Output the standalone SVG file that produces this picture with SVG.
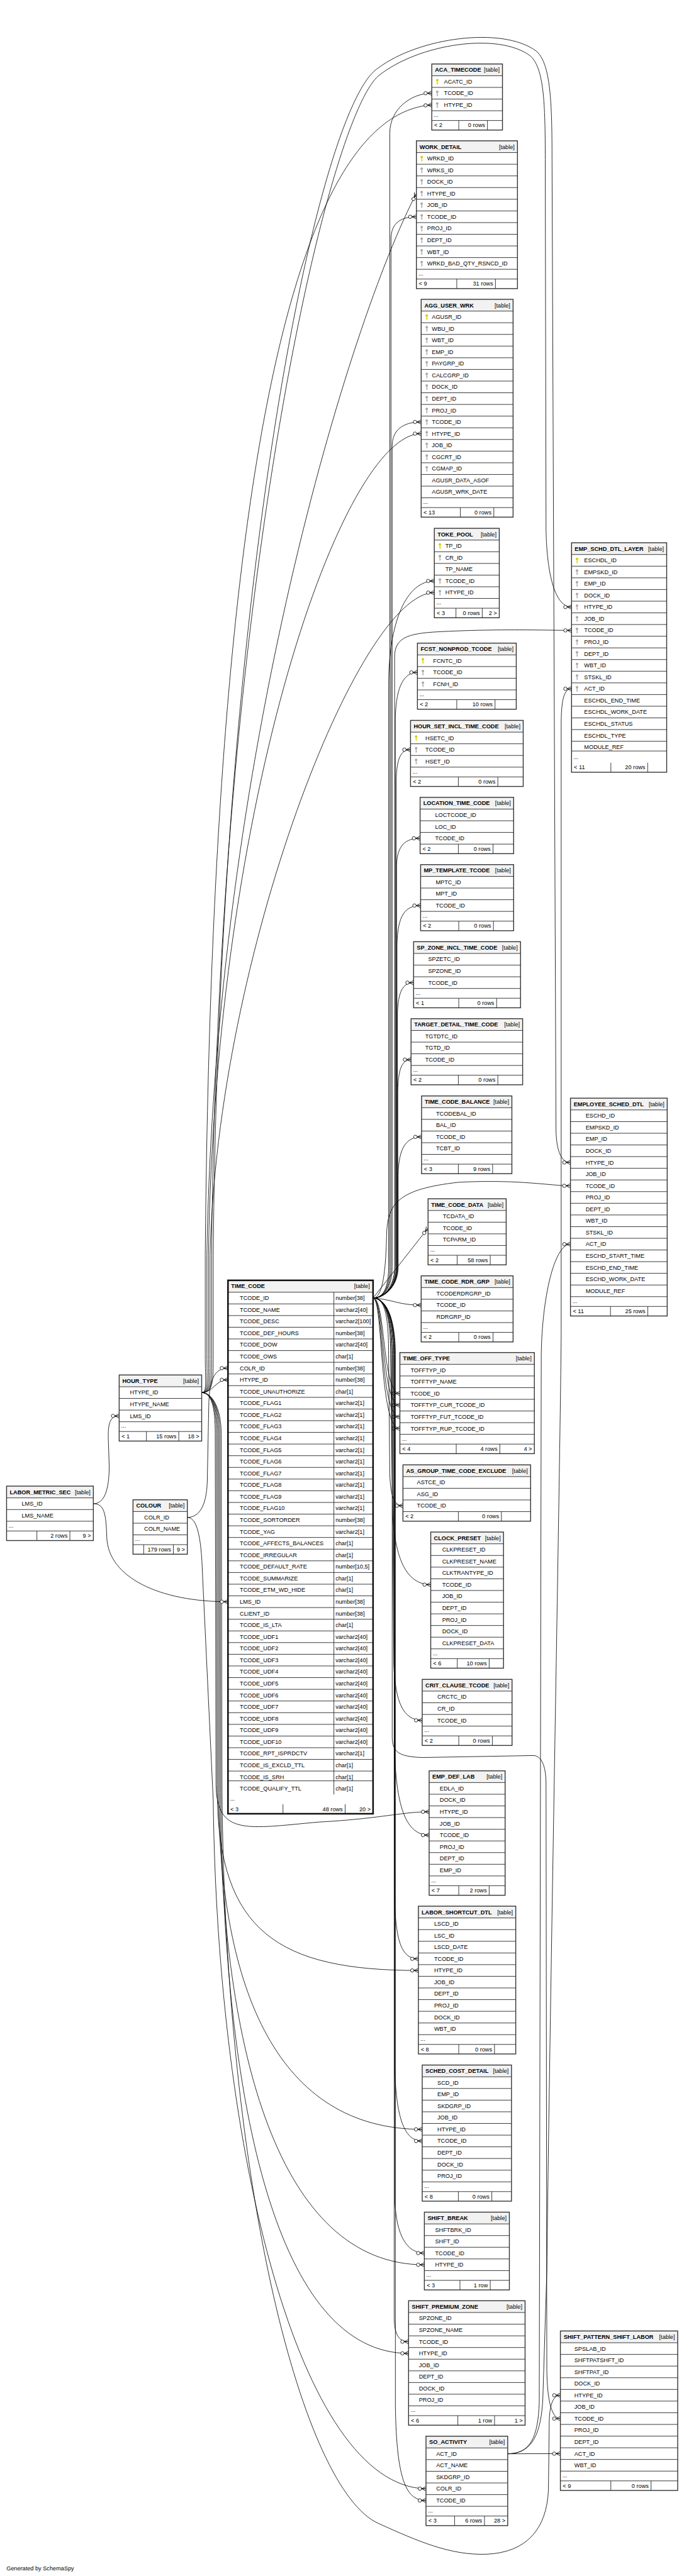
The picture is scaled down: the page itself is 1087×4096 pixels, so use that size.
<svg xmlns="http://www.w3.org/2000/svg" width="1087" height="4096" viewBox="0 0 1087 4096">
<style>
text{font-family:"Liberation Sans",Arial,Helvetica,sans-serif;font-size:14.5px;fill:#000}
.b{font-weight:bold}
.e{text-anchor:end}
.bg{fill:#fff}
.hd{fill:#f2f2f2}
.ln{fill:none;stroke:#222;stroke-width:1.4}
.bd{fill:none;stroke:#333;stroke-width:2.2}
.bd4{fill:none;stroke:#111;stroke-width:4}
.c{fill:none;stroke:#000;stroke-width:1.3;marker-end:url(#cf)}
</style>
<defs>
<marker id="cf" viewBox="-22 -7 23 14" refX="0" refY="0" markerWidth="23" markerHeight="14" markerUnits="userSpaceOnUse" orient="auto">
<path d="M-11 0L0 -5.5M-11 0H0M-11 0L0 5.5" fill="none" stroke="#000" stroke-width="1.3"/>
<circle cx="-15.5" cy="0" r="4.3" fill="#fff" stroke="#000" stroke-width="1.3"/>
</marker>
<g id="kp" fill="#d2d200"><circle cx="0" cy="-3.5" r="3.2"/><rect x="-1" y="-1" width="2" height="8.5"/><rect x="0" y="3.5" width="2.6" height="1.6"/></g>
<g id="kf" fill="#aaaaaa"><circle cx="0" cy="-3.5" r="3.2"/><rect x="-1" y="-1" width="2" height="8.5"/><rect x="0" y="3.5" width="2.6" height="1.6"/></g>
</defs>
<rect width="1087" height="4096" fill="#fff"/>
<g transform="scale(0.6334)">
<g id="connectors">
<path class="c" d="M936 3258.6C962 3258.6 978 3232 978 3180L978 334C978 275 1030 234 1083.3 234"/>
<path class="c" d="M936 3258.6C962 3258.6 981 3232 981 3180L981 600C981 565 1000 544.2 1044.7 544.2"/>
<path class="c" d="M936 3258.6C962 3258.6 984 3232 984 3180L984 1120C984 1080 1010 1059.3 1056.7 1059.3"/>
<path class="c" d="M936 3258.6C962 3258.6 975 3232 975 3180L975 1720C975 1560 1020 1458.4 1089.7 1458.4"/>
<path class="c" d="M936 3258.6C962 3258.6 990 3232 990 3180L990 1650C990 1602 1020 1590 1100 1586C1250 1578 1380 1582.5 1434 1582.5"/>
<path class="c" d="M936 3258.6C962 3258.6 992 3232 992 3180L992 1800C994 1720 1015 1688 1047.3 1688"/>
<path class="c" d="M936 3258.6C962 3258.6 994 3232 994 3180L994 1960C995 1905 1005 1881.9 1030 1881.9"/>
<path class="c" d="M936 3258.6C962 3258.6 995 3232 995 3180L995 2170C997 2125 1015 2104.4 1054 2104.4"/>
<path class="c" d="M936 3258.6C962 3258.6 996 3232 996 3180L996 2370C998 2300 1015 2273.3 1055.3 2273.3"/>
<path class="c" d="M936 3258.6C962 3258.6 997 3232 997 3180L997 2545C999 2490 1010 2466.8 1037.7 2466.8"/>
<path class="c" d="M936 3258.6C962 3258.6 998 3232 998 3180L998 2740C999 2685 1008 2660 1031.3 2660"/>
<path class="c" d="M936 3258.6C962 3258.6 999 3232 999 3180L999 2950C1000 2880 1020 2854 1057.7 2854"/>
<path class="c" d="M936 3258.6L1074 3082.8"/>
<path class="c" d="M936 3258.6C962 3258.6 968 3180 970 3100C972 3020 1000 2985 1150 2968C1300 2960 1380 2976.8 1431.3 2976.8"/>
<path class="c" d="M936 3258.6C985 3262 1000 3276.3 1056.7 3276.3"/>
<path class="c" d="M936 3258.6C968 3258.6 958 3498.2 1003.3 3498.2"/>
<path class="c" d="M936 3258.6C966 3258.6 955 3527.5 1003.3 3527.5"/>
<path class="c" d="M936 3258.6C964 3258.6 952 3556.8 1003.3 3556.8"/>
<path class="c" d="M936 3258.6C962 3258.6 950 3586.1 1003.3 3586.1"/>
<path class="c" d="M936 3258.6C965 3258.6 975 3300 975 3400L978 3700C980 3760 990 3780 1011 3780"/>
<path class="c" d="M936 3258.6C965 3258.6 980 3300 980 3400L985 3800C990 3890 1010 3978 1080.7 3978"/>
<path class="c" d="M936 3258.6C965 3258.6 982 3300 982 3400L988 4180C992 4270 1010 4318.6 1059.3 4318.6"/>
<path class="c" d="M936 3258.6C965 3258.6 984 3300 984 3400L984 4360C984 4398 1000 4410 1060 4412L1340 4407C1362 4410 1370 4440 1370 4480L1372 5950C1373 6030 1385 6071.6 1406 6071.6"/>
<path class="c" d="M936 3258.6C965 3258.6 986 3300 986 3400L990 4400C995 4540 1020 4606.8 1076.7 4606.8"/>
<path class="c" d="M936 3258.6C965 3258.6 988 3300 988 3400L990 4760C992 4880 1010 4917.3 1049.7 4917.3"/>
<path class="c" d="M936 3258.6C965 3258.6 990 3300 990 3400L990 5180C993 5320 1015 5374.7 1059.3 5374.7"/>
<path class="c" d="M936 3258.6C965 3258.6 991 3300 991 3400L991 5530C995 5610 1020 5656.1 1064.7 5656.1"/>
<path class="c" d="M936 3258.6C965 3258.6 989 3300 989 3400L989 5820C990 5860 1000 5878.5 1025.1 5878.5"/>
<path class="c" d="M936 3258.6C965 3258.6 992 3300 992 3400L992 6040C995 6230 1020 6277.1 1068.8 6277.1"/>
<path class="c" d="M506 3495.9C535 3495.9 540 3463.8 572 3463.8"/>
<path class="c" d="M506 3495.9C520 3495.9 515 3470 515 3400L515 3150C530 1400 700 290 1083.3 263.4"/>
<path class="c" d="M506 3495.9C523 3495.9 519 3470 519 3400L519 3150C540 1900 880 800 1044.7 485.6"/>
<path class="c" d="M506 3495.9C526 3495.9 523 3470 523 3400L523 3150C540 2000 860 1088.6 1056.7 1088.6"/>
<path class="c" d="M506 3495.9C529 3495.9 527 3470 527 3400L527 3150C545 2400 900 1487.7 1089.7 1487.7"/>
<path class="c" d="M506 3495.9C532 3495.9 531 3470 531 3400L531 3150C545 1500 820 300 950 190C1050 110 1250 80 1330 140C1365 170 1368 260 1368 400L1370 1330C1372 1440 1392 1523.9 1434 1523.9"/>
<path class="c" d="M506 3495.9C535 3495.9 535 3470 535 3400L535 3150C550 1450 800 260 950 170C1050 95 1260 65 1345 128C1382 158 1385 260 1385 400L1395 2840C1397 2895 1410 2918.2 1431.3 2918.2"/>
<path class="c" d="M506 3495.9C530 3495.9 540 3530 540 3600L542 4480C544 4610 620 4590 800 4574C950 4566 1010 4548.2 1076.7 4548.2"/>
<path class="c" d="M506 3495.9C530 3495.9 543 3530 543 3600L545 4500C548 4850 700 4946.6 1049.7 4946.6"/>
<path class="c" d="M506 3495.9C530 3495.9 546 3530 546 3600L548 4500C552 5000 700 5345.4 1059.3 5345.4"/>
<path class="c" d="M506 3495.9C530 3495.9 549 3530 549 3600L551 4500C556 5150 700 5685.4 1064.7 5685.4"/>
<path class="c" d="M506 3495.9C530 3495.9 552 3530 552 3600L554 4500C560 5300 700 5907.8 1025.1 5907.8"/>
<path class="c" d="M506 3495.9C530 3495.9 555 3530 555 3600L557 4500C566 5500 760 6250 950 6335C1050 6380 1130 6415 1220 6412C1320 6408 1372 6350 1376 6250L1378 6080C1379 6035 1388 6013 1406 6013"/>
<path class="c" d="M470 3809.2C500 3809.2 518 3780 520 3720L524 3520C526 3460 540 3434.5 572 3434.5"/>
<path class="c" d="M470 3809.2C495 3809.2 505 3860 508 3950L535 4520C545 5400 750 6240 1068.8 6247.8"/>
<path class="c" d="M234.2 3774.9C262 3774.9 274 3740 274 3680L272 3620C270 3575 275 3554.5 299 3554.5"/>
<path class="c" d="M234.2 3774.9C262 3774.9 266 3800 268 3860C272 3960 400 4020.9 572 4020.9"/>
<path class="c" d="M1273.8 6159.9L1406 6159.5"/>
<path class="c" d="M1273.8 6159.9C1330 6159.9 1350 6120 1353 6030L1358 3400C1360 3260 1390 3123.3 1431.3 3123.3"/>
<path class="c" d="M1273.8 6159.9C1335 6159.9 1358 6110 1362 6020L1372 5700C1380 5000 1405 3700 1408 3350L1408 1820C1408 1760 1414 1729 1434 1729"/>
</g>

<g id="ACA_TIMECODE">
<rect class="bg" x="1083.3" y="160.6" width="177.4" height="165.9"/><rect class="hd" x="1083.3" y="160.6" width="177.4" height="29.5"/>
<path class="ln" d="M1083.3 190.1h177.4m-177.4 29.3h177.4m-177.4 29.3h177.4m-177.4 29.3h177.4m-177.4 24.5h177.4M1151 302.5V326.5M1223 302.5V326.5"/>
<rect class="bd" x="1083.3" y="160.6" width="177.4" height="165.9"/>
<text class="b" x="1091.3" y="180.6">ACA_TIMECODE</text><text class="e" x="1253.7" y="180.6">[table]</text>
<use href="#kp" x="1097" y="204.8"/><use href="#kf" x="1097" y="234.1"/><use href="#kf" x="1097" y="263.4"/>
<text><tspan x="1114" y="209.8">ACATC_ID</tspan><tspan x="1114" y="239.1">TCODE_ID</tspan><tspan x="1114" y="268.4">HTYPE_ID</tspan><tspan x="1088" y="293">...</tspan><tspan x="1089.3" y="319.5">&lt; 2</tspan></text>
<text class="e" x="1217" y="319.5">0 rows</text>
</g>

<g id="WORK_DETAIL">
<rect class="bg" x="1044.7" y="353.5" width="253.6" height="371"/><rect class="hd" x="1044.7" y="353.5" width="253.6" height="29.5"/>
<path class="ln" d="M1044.7 383h253.6m-253.6 29.3h253.6m-253.6 29.3h253.6m-253.6 29.3h253.6m-253.6 29.3h253.6m-253.6 29.3h253.6m-253.6 29.3h253.6m-253.6 29.3h253.6m-253.6 29.3h253.6m-253.6 29.3h253.6m-253.6 29.3h253.6m-253.6 24.5h253.6M1146 700.5V724.5M1243 700.5V724.5"/>
<rect class="bd" x="1044.7" y="353.5" width="253.6" height="371"/>
<text class="b" x="1052.7" y="373.5">WORK_DETAIL</text><text class="e" x="1291.3" y="373.5">[table]</text>
<use href="#kp" x="1058" y="397.65"/><use href="#kf" x="1058" y="426.95"/><use href="#kf" x="1058" y="456.25"/><use href="#kf" x="1058" y="485.55"/><use href="#kf" x="1058" y="514.85"/><use href="#kf" x="1058" y="544.15"/><use href="#kf" x="1058" y="573.45"/><use href="#kf" x="1058" y="602.75"/><use href="#kf" x="1058" y="632.05"/><use href="#kf" x="1058" y="661.35"/>
<text><tspan x="1071.7" y="402.65">WRKD_ID</tspan><tspan x="1071.7" y="431.95">WRKS_ID</tspan><tspan x="1071.7" y="461.25">DOCK_ID</tspan><tspan x="1071.7" y="490.55">HTYPE_ID</tspan><tspan x="1071.7" y="519.85">JOB_ID</tspan><tspan x="1071.7" y="549.15">TCODE_ID</tspan><tspan x="1071.7" y="578.45">PROJ_ID</tspan><tspan x="1071.7" y="607.75">DEPT_ID</tspan><tspan x="1071.7" y="637.05">WBT_ID</tspan><tspan x="1071.7" y="666.35">WRKD_BAD_QTY_RSNCD_ID</tspan><tspan x="1049.7" y="691">...</tspan><tspan x="1050.7" y="717.5">&lt; 9</tspan></text>
<text class="e" x="1237" y="717.5">31 rows</text>
</g>

<g id="AGG_USER_WRK">
<rect class="bg" x="1056.7" y="751.4" width="230.6" height="546.8"/><rect class="hd" x="1056.7" y="751.4" width="230.6" height="29.5"/>
<path class="ln" d="M1056.7 780.9h230.6m-230.6 29.3h230.6m-230.6 29.3h230.6m-230.6 29.3h230.6m-230.6 29.3h230.6m-230.6 29.3h230.6m-230.6 29.3h230.6m-230.6 29.3h230.6m-230.6 29.3h230.6m-230.6 29.3h230.6m-230.6 29.3h230.6m-230.6 29.3h230.6m-230.6 29.3h230.6m-230.6 29.3h230.6m-230.6 29.3h230.6m-230.6 29.3h230.6m-230.6 29.3h230.6m-230.6 24.5h230.6M1155 1274.2V1298.2M1239 1274.2V1298.2"/>
<rect class="bd" x="1056.7" y="751.4" width="230.6" height="546.8"/>
<text class="b" x="1064.7" y="771.4">AGG_USER_WRK</text><text class="e" x="1280.3" y="771.4">[table]</text>
<use href="#kp" x="1070.7" y="795.55"/><use href="#kf" x="1070.7" y="824.85"/><use href="#kf" x="1070.7" y="854.15"/><use href="#kf" x="1070.7" y="883.45"/><use href="#kf" x="1070.7" y="912.75"/><use href="#kf" x="1070.7" y="942.05"/><use href="#kf" x="1070.7" y="971.35"/><use href="#kf" x="1070.7" y="1000.65"/><use href="#kf" x="1070.7" y="1029.95"/><use href="#kf" x="1070.7" y="1059.25"/><use href="#kf" x="1070.7" y="1088.55"/><use href="#kf" x="1070.7" y="1117.85"/><use href="#kf" x="1070.7" y="1147.15"/><use href="#kf" x="1070.7" y="1176.45"/>
<text><tspan x="1083.5" y="800.55">AGUSR_ID</tspan><tspan x="1083.5" y="829.85">WBU_ID</tspan><tspan x="1083.5" y="859.15">WBT_ID</tspan><tspan x="1083.5" y="888.45">EMP_ID</tspan><tspan x="1083.5" y="917.75">PAYGRP_ID</tspan><tspan x="1083.5" y="947.05">CALCGRP_ID</tspan><tspan x="1083.5" y="976.35">DOCK_ID</tspan><tspan x="1083.5" y="1005.65">DEPT_ID</tspan><tspan x="1083.5" y="1034.95">PROJ_ID</tspan><tspan x="1083.5" y="1064.25">TCODE_ID</tspan><tspan x="1083.5" y="1093.55">HTYPE_ID</tspan><tspan x="1083.5" y="1122.85">JOB_ID</tspan><tspan x="1083.5" y="1152.15">CGCRT_ID</tspan><tspan x="1083.5" y="1181.45">CGMAP_ID</tspan><tspan x="1083.5" y="1210.75">AGUSR_DATA_ASOF</tspan><tspan x="1083.5" y="1240.05">AGUSR_WRK_DATE</tspan><tspan x="1061.7" y="1265">...</tspan><tspan x="1062.7" y="1291.2">&lt; 13</tspan></text>
<text class="e" x="1233" y="1291.2">0 rows</text>
</g>

<g id="TOKE_POOL">
<rect class="bg" x="1089.7" y="1326.3" width="163" height="224.5"/><rect class="hd" x="1089.7" y="1326.3" width="163" height="29.5"/>
<path class="ln" d="M1089.7 1355.8h163m-163 29.3h163m-163 29.3h163m-163 29.3h163m-163 29.3h163m-163 29.3h163m-163 24.5h163M1144 1526.8V1550.8M1210 1526.8V1550.8"/>
<rect class="bd" x="1089.7" y="1326.3" width="163" height="224.5"/>
<text class="b" x="1097.7" y="1346.3">TOKE_POOL</text><text class="e" x="1245.7" y="1346.3">[table]</text>
<use href="#kp" x="1103.7" y="1370.45"/><use href="#kf" x="1103.7" y="1399.75"/><use href="#kf" x="1103.7" y="1458.35"/><use href="#kf" x="1103.7" y="1487.65"/>
<text><tspan x="1117.3" y="1375.45">TP_ID</tspan><tspan x="1117.3" y="1404.75">CR_ID</tspan><tspan x="1117.3" y="1434.05">TP_NAME</tspan><tspan x="1117.3" y="1463.35">TCODE_ID</tspan><tspan x="1117.3" y="1492.65">HTYPE_ID</tspan><tspan x="1094.7" y="1517.8">...</tspan><tspan x="1095.7" y="1543.8">&lt; 3</tspan></text>
<text class="e" x="1204" y="1543.8">0 rows</text><text class="e" x="1246.7" y="1543.8">2 &gt;</text>
</g>

<g id="FCST_NONPROD_TCODE">
<rect class="bg" x="1047.3" y="1614.5" width="248" height="165.9"/><rect class="hd" x="1047.3" y="1614.5" width="248" height="29.5"/>
<path class="ln" d="M1047.3 1644h248m-248 29.3h248m-248 29.3h248m-248 29.3h248m-248 24.5h248M1146 1756.4V1780.4M1242 1756.4V1780.4"/>
<rect class="bd" x="1047.3" y="1614.5" width="248" height="165.9"/>
<text class="b" x="1055.3" y="1634.5">FCST_NONPROD_TCODE</text><text class="e" x="1288.3" y="1634.5">[table]</text>
<use href="#kp" x="1061" y="1658.65"/><use href="#kf" x="1061" y="1687.95"/><use href="#kf" x="1061" y="1717.25"/>
<text><tspan x="1086.7" y="1663.65">FCNTC_ID</tspan><tspan x="1086.7" y="1692.95">TCODE_ID</tspan><tspan x="1086.7" y="1722.25">FCNH_ID</tspan><tspan x="1052.3" y="1747.4">...</tspan><tspan x="1053.3" y="1773.4">&lt; 2</tspan></text>
<text class="e" x="1236" y="1773.4">10 rows</text>
</g>

<g id="HOUR_SET_INCL_TIME_CODE">
<rect class="bg" x="1030" y="1808.4" width="282.7" height="165.9"/><rect class="hd" x="1030" y="1808.4" width="282.7" height="29.5"/>
<path class="ln" d="M1030 1837.9h282.7m-282.7 29.3h282.7m-282.7 29.3h282.7m-282.7 29.3h282.7m-282.7 24.5h282.7M1150 1950.3V1974.3M1249 1950.3V1974.3"/>
<rect class="bd" x="1030" y="1808.4" width="282.7" height="165.9"/>
<text class="b" x="1038" y="1828.4">HOUR_SET_INCL_TIME_CODE</text><text class="e" x="1305.7" y="1828.4">[table]</text>
<use href="#kp" x="1044" y="1852.55"/><use href="#kf" x="1044" y="1881.85"/><use href="#kf" x="1044" y="1911.15"/>
<text><tspan x="1067.3" y="1857.55">HSETC_ID</tspan><tspan x="1067.3" y="1886.85">TCODE_ID</tspan><tspan x="1067.3" y="1916.15">HSET_ID</tspan><tspan x="1035" y="1941.3">...</tspan><tspan x="1036" y="1967.3">&lt; 2</tspan></text>
<text class="e" x="1243" y="1967.3">0 rows</text>
</g>

<g id="LOCATION_TIME_CODE">
<rect class="bg" x="1054" y="2001.6" width="234.7" height="141.4"/><rect class="hd" x="1054" y="2001.6" width="234.7" height="29.5"/>
<path class="ln" d="M1054 2031.1h234.7m-234.7 29.3h234.7m-234.7 29.3h234.7m-234.7 29.3h234.7M1150 2119V2143M1237 2119V2143"/>
<rect class="bd" x="1054" y="2001.6" width="234.7" height="141.4"/>
<text class="b" x="1062" y="2021.6">LOCATION_TIME_CODE</text><text class="e" x="1281.7" y="2021.6">[table]</text>
<text><tspan x="1091.7" y="2050.75">LOCTCODE_ID</tspan><tspan x="1091.7" y="2080.05">LOC_ID</tspan><tspan x="1091.7" y="2109.35">TCODE_ID</tspan><tspan x="1060" y="2136">&lt; 2</tspan></text>
<text class="e" x="1231" y="2136">0 rows</text>
</g>

<g id="MP_TEMPLATE_TCODE">
<rect class="bg" x="1055.3" y="2170.5" width="233.4" height="165.9"/><rect class="hd" x="1055.3" y="2170.5" width="233.4" height="29.5"/>
<path class="ln" d="M1055.3 2200h233.4m-233.4 29.3h233.4m-233.4 29.3h233.4m-233.4 29.3h233.4m-233.4 24.5h233.4M1151 2312.4V2336.4M1238 2312.4V2336.4"/>
<rect class="bd" x="1055.3" y="2170.5" width="233.4" height="165.9"/>
<text class="b" x="1063.3" y="2190.5">MP_TEMPLATE_TCODE</text><text class="e" x="1281.7" y="2190.5">[table]</text>
<text><tspan x="1093.3" y="2219.65">MPTC_ID</tspan><tspan x="1093.3" y="2248.95">MPT_ID</tspan><tspan x="1093.3" y="2278.25">TCODE_ID</tspan><tspan x="1060.3" y="2303.4">...</tspan><tspan x="1061.3" y="2329.4">&lt; 2</tspan></text>
<text class="e" x="1232" y="2329.4">0 rows</text>
</g>

<g id="SP_ZONE_INCL_TIME_CODE">
<rect class="bg" x="1037.7" y="2364" width="268.3" height="165.9"/><rect class="hd" x="1037.7" y="2364" width="268.3" height="29.5"/>
<path class="ln" d="M1037.7 2393.5h268.3m-268.3 29.3h268.3m-268.3 29.3h268.3m-268.3 29.3h268.3m-268.3 24.5h268.3M1151 2505.9V2529.9M1246 2505.9V2529.9"/>
<rect class="bd" x="1037.7" y="2364" width="268.3" height="165.9"/>
<text class="b" x="1045.7" y="2384">SP_ZONE_INCL_TIME_CODE</text><text class="e" x="1299" y="2384">[table]</text>
<text><tspan x="1074.3" y="2413.15">SPZETC_ID</tspan><tspan x="1074.3" y="2442.45">SPZONE_ID</tspan><tspan x="1074.3" y="2471.75">TCODE_ID</tspan><tspan x="1042.7" y="2496.9">...</tspan><tspan x="1043.7" y="2522.9">&lt; 1</tspan></text>
<text class="e" x="1240" y="2522.9">0 rows</text>
</g>

<g id="TARGET_DETAIL_TIME_CODE">
<rect class="bg" x="1031.3" y="2557.3" width="280" height="165.9"/><rect class="hd" x="1031.3" y="2557.3" width="280" height="29.5"/>
<path class="ln" d="M1031.3 2586.8h280m-280 29.3h280m-280 29.3h280m-280 29.3h280m-280 24.5h280M1150 2699.2V2723.2M1249 2699.2V2723.2"/>
<rect class="bd" x="1031.3" y="2557.3" width="280" height="165.9"/>
<text class="b" x="1039.3" y="2577.3">TARGET_DETAIL_TIME_CODE</text><text class="e" x="1304.3" y="2577.3">[table]</text>
<text><tspan x="1066.7" y="2606.45">TGTDTC_ID</tspan><tspan x="1066.7" y="2635.75">TGTD_ID</tspan><tspan x="1066.7" y="2665.05">TCODE_ID</tspan><tspan x="1036.3" y="2690.2">...</tspan><tspan x="1037.3" y="2716.2">&lt; 2</tspan></text>
<text class="e" x="1243" y="2716.2">0 rows</text>
</g>

<g id="TIME_CODE_BALANCE">
<rect class="bg" x="1057.7" y="2751.2" width="226.6" height="195.2"/><rect class="hd" x="1057.7" y="2751.2" width="226.6" height="29.5"/>
<path class="ln" d="M1057.7 2780.7h226.6m-226.6 29.3h226.6m-226.6 29.3h226.6m-226.6 29.3h226.6m-226.6 29.3h226.6m-226.6 24.5h226.6M1150 2922.4V2946.4M1236 2922.4V2946.4"/>
<rect class="bd" x="1057.7" y="2751.2" width="226.6" height="195.2"/>
<text class="b" x="1065.7" y="2771.2">TIME_CODE_BALANCE</text><text class="e" x="1277.3" y="2771.2">[table]</text>
<text><tspan x="1094" y="2800.35">TCODEBAL_ID</tspan><tspan x="1094" y="2829.65">BAL_ID</tspan><tspan x="1094" y="2858.95">TCODE_ID</tspan><tspan x="1094" y="2888.25">TCBT_ID</tspan><tspan x="1062.7" y="2913.4">...</tspan><tspan x="1063.7" y="2939.4">&lt; 3</tspan></text>
<text class="e" x="1230" y="2939.4">9 rows</text>
</g>

<g id="TIME_CODE_DATA">
<rect class="bg" x="1074" y="3009.3" width="196" height="165.9"/><rect class="hd" x="1074" y="3009.3" width="196" height="29.5"/>
<path class="ln" d="M1074 3038.8h196m-196 29.3h196m-196 29.3h196m-196 29.3h196m-196 24.5h196M1147 3151.2V3175.2M1230 3151.2V3175.2"/>
<rect class="bd" x="1074" y="3009.3" width="196" height="165.9"/>
<text class="b" x="1082" y="3029.3">TIME_CODE_DATA</text><text class="e" x="1263" y="3029.3">[table]</text>
<text><tspan x="1111" y="3058.45">TCDATA_ID</tspan><tspan x="1111" y="3087.75">TCODE_ID</tspan><tspan x="1111" y="3117.05">TCPARM_ID</tspan><tspan x="1079" y="3142.2">...</tspan><tspan x="1080" y="3168.2">&lt; 2</tspan></text>
<text class="e" x="1224" y="3168.2">58 rows</text>
</g>

<g id="TIME_CODE_RDR_GRP">
<rect class="bg" x="1056.7" y="3202.8" width="230.6" height="165.9"/><rect class="hd" x="1056.7" y="3202.8" width="230.6" height="29.5"/>
<path class="ln" d="M1056.7 3232.3h230.6m-230.6 29.3h230.6m-230.6 29.3h230.6m-230.6 29.3h230.6m-230.6 24.5h230.6M1151 3344.7V3368.7M1237 3344.7V3368.7"/>
<rect class="bd" x="1056.7" y="3202.8" width="230.6" height="165.9"/>
<text class="b" x="1064.7" y="3222.8">TIME_CODE_RDR_GRP</text><text class="e" x="1280.3" y="3222.8">[table]</text>
<text><tspan x="1095" y="3251.95">TCODERDRGRP_ID</tspan><tspan x="1095" y="3281.25">TCODE_ID</tspan><tspan x="1095" y="3310.55">RDRGRP_ID</tspan><tspan x="1061.7" y="3335.7">...</tspan><tspan x="1062.7" y="3361.7">&lt; 2</tspan></text>
<text class="e" x="1231" y="3361.7">0 rows</text>
</g>

<g id="TIME_OFF_TYPE">
<rect class="bg" x="1003.3" y="3395.4" width="337.4" height="253.8"/><rect class="hd" x="1003.3" y="3395.4" width="337.4" height="29.5"/>
<path class="ln" d="M1003.3 3424.9h337.4m-337.4 29.3h337.4m-337.4 29.3h337.4m-337.4 29.3h337.4m-337.4 29.3h337.4m-337.4 29.3h337.4m-337.4 29.3h337.4m-337.4 24.5h337.4M1144.7 3625.2V3649.2M1254 3625.2V3649.2"/>
<rect class="bd" x="1003.3" y="3395.4" width="337.4" height="253.8"/>
<text class="b" x="1011.3" y="3415.4">TIME_OFF_TYPE</text><text class="e" x="1333.7" y="3415.4">[table]</text>
<text><tspan x="1030" y="3444.55">TOFFTYP_ID</tspan><tspan x="1030" y="3473.85">TOFFTYP_NAME</tspan><tspan x="1030" y="3503.15">TCODE_ID</tspan><tspan x="1030" y="3532.45">TOFFTYP_CUR_TCODE_ID</tspan><tspan x="1030" y="3561.75">TOFFTYP_FUT_TCODE_ID</tspan><tspan x="1030" y="3591.05">TOFFTYP_RUP_TCODE_ID</tspan><tspan x="1008.3" y="3616.2">...</tspan><tspan x="1009.3" y="3642.2">&lt; 4</tspan></text>
<text class="e" x="1248" y="3642.2">4 rows</text><text class="e" x="1334.7" y="3642.2">4 &gt;</text>
</g>

<g id="AS_GROUP_TIME_CODE_EXCLUDE">
<rect class="bg" x="1011" y="3677.3" width="320.3" height="141.4"/><rect class="hd" x="1011" y="3677.3" width="320.3" height="29.5"/>
<path class="ln" d="M1011 3706.8h320.3m-320.3 29.3h320.3m-320.3 29.3h320.3m-320.3 29.3h320.3M1150 3794.7V3818.7M1258 3794.7V3818.7"/>
<rect class="bd" x="1011" y="3677.3" width="320.3" height="141.4"/>
<text class="b" x="1019" y="3697.3">AS_GROUP_TIME_CODE_EXCLUDE</text><text class="e" x="1324.3" y="3697.3">[table]</text>
<text><tspan x="1046" y="3726.45">ASTCE_ID</tspan><tspan x="1046" y="3755.75">ASG_ID</tspan><tspan x="1046" y="3785.05">TCODE_ID</tspan><tspan x="1017" y="3811.7">&lt; 2</tspan></text>
<text class="e" x="1252" y="3811.7">0 rows</text>
</g>

<g id="CLOCK_PRESET">
<rect class="bg" x="1080.7" y="3846" width="182.6" height="341.7"/><rect class="hd" x="1080.7" y="3846" width="182.6" height="29.5"/>
<path class="ln" d="M1080.7 3875.5h182.6m-182.6 29.3h182.6m-182.6 29.3h182.6m-182.6 29.3h182.6m-182.6 29.3h182.6m-182.6 29.3h182.6m-182.6 29.3h182.6m-182.6 29.3h182.6m-182.6 29.3h182.6m-182.6 29.3h182.6m-182.6 24.5h182.6M1147.3 4163.7V4187.7M1227.3 4163.7V4187.7"/>
<rect class="bd" x="1080.7" y="3846" width="182.6" height="341.7"/>
<text class="b" x="1088.7" y="3866">CLOCK_PRESET</text><text class="e" x="1256.3" y="3866">[table]</text>
<text><tspan x="1109.3" y="3895.15">CLKPRESET_ID</tspan><tspan x="1109.3" y="3924.45">CLKPRESET_NAME</tspan><tspan x="1109.3" y="3953.75">CLKTRANTYPE_ID</tspan><tspan x="1109.3" y="3983.05">TCODE_ID</tspan><tspan x="1109.3" y="4012.35">JOB_ID</tspan><tspan x="1109.3" y="4041.65">DEPT_ID</tspan><tspan x="1109.3" y="4070.95">PROJ_ID</tspan><tspan x="1109.3" y="4100.25">DOCK_ID</tspan><tspan x="1109.3" y="4129.55">CLKPRESET_DATA</tspan><tspan x="1085.7" y="4154.7">...</tspan><tspan x="1086.7" y="4180.7">&lt; 6</tspan></text>
<text class="e" x="1221.3" y="4180.7">10 rows</text>
</g>

<g id="CRIT_CLAUSE_TCODE">
<rect class="bg" x="1059.3" y="4215.8" width="225.4" height="165.9"/><rect class="hd" x="1059.3" y="4215.8" width="225.4" height="29.5"/>
<path class="ln" d="M1059.3 4245.3h225.4m-225.4 29.3h225.4m-225.4 29.3h225.4m-225.4 29.3h225.4m-225.4 24.5h225.4M1151 4357.7V4381.7M1235.3 4357.7V4381.7"/>
<rect class="bd" x="1059.3" y="4215.8" width="225.4" height="165.9"/>
<text class="b" x="1067.3" y="4235.8">CRIT_CLAUSE_TCODE</text><text class="e" x="1277.7" y="4235.8">[table]</text>
<text><tspan x="1097.3" y="4264.95">CRCTC_ID</tspan><tspan x="1097.3" y="4294.25">CR_ID</tspan><tspan x="1097.3" y="4323.55">TCODE_ID</tspan><tspan x="1064.3" y="4348.7">...</tspan><tspan x="1065.3" y="4374.7">&lt; 2</tspan></text>
<text class="e" x="1229.3" y="4374.7">0 rows</text>
</g>

<g id="EMP_DEF_LAB">
<rect class="bg" x="1076.7" y="4445.4" width="190.6" height="312.4"/><rect class="hd" x="1076.7" y="4445.4" width="190.6" height="29.5"/>
<path class="ln" d="M1076.7 4474.9h190.6m-190.6 29.3h190.6m-190.6 29.3h190.6m-190.6 29.3h190.6m-190.6 29.3h190.6m-190.6 29.3h190.6m-190.6 29.3h190.6m-190.6 29.3h190.6m-190.6 29.3h190.6m-190.6 24.5h190.6M1151 4733.8V4757.8M1227.3 4733.8V4757.8"/>
<rect class="bd" x="1076.7" y="4445.4" width="190.6" height="312.4"/>
<text class="b" x="1084.7" y="4465.4">EMP_DEF_LAB</text><text class="e" x="1260.3" y="4465.4">[table]</text>
<text><tspan x="1103.3" y="4494.55">EDLA_ID</tspan><tspan x="1103.3" y="4523.85">DOCK_ID</tspan><tspan x="1103.3" y="4553.15">HTYPE_ID</tspan><tspan x="1103.3" y="4582.45">JOB_ID</tspan><tspan x="1103.3" y="4611.75">TCODE_ID</tspan><tspan x="1103.3" y="4641.05">PROJ_ID</tspan><tspan x="1103.3" y="4670.35">DEPT_ID</tspan><tspan x="1103.3" y="4699.65">EMP_ID</tspan><tspan x="1081.7" y="4724.8">...</tspan><tspan x="1082.7" y="4750.8">&lt; 7</tspan></text>
<text class="e" x="1221.3" y="4750.8">2 rows</text>
</g>

<g id="LABOR_SHORTCUT_DTL">
<rect class="bg" x="1049.7" y="4785.2" width="244.3" height="371"/><rect class="hd" x="1049.7" y="4785.2" width="244.3" height="29.5"/>
<path class="ln" d="M1049.7 4814.7h244.3m-244.3 29.3h244.3m-244.3 29.3h244.3m-244.3 29.3h244.3m-244.3 29.3h244.3m-244.3 29.3h244.3m-244.3 29.3h244.3m-244.3 29.3h244.3m-244.3 29.3h244.3m-244.3 29.3h244.3m-244.3 29.3h244.3m-244.3 24.5h244.3M1151 5132.2V5156.2M1240.7 5132.2V5156.2"/>
<rect class="bd" x="1049.7" y="4785.2" width="244.3" height="371"/>
<text class="b" x="1057.7" y="4805.2">LABOR_SHORTCUT_DTL</text><text class="e" x="1287" y="4805.2">[table]</text>
<text><tspan x="1089.3" y="4834.35">LSCD_ID</tspan><tspan x="1089.3" y="4863.65">LSC_ID</tspan><tspan x="1089.3" y="4892.95">LSCD_DATE</tspan><tspan x="1089.3" y="4922.25">TCODE_ID</tspan><tspan x="1089.3" y="4951.55">HTYPE_ID</tspan><tspan x="1089.3" y="4980.85">JOB_ID</tspan><tspan x="1089.3" y="5010.15">DEPT_ID</tspan><tspan x="1089.3" y="5039.45">PROJ_ID</tspan><tspan x="1089.3" y="5068.75">DOCK_ID</tspan><tspan x="1089.3" y="5098.05">WBT_ID</tspan><tspan x="1054.7" y="5123.2">...</tspan><tspan x="1055.7" y="5149.2">&lt; 8</tspan></text>
<text class="e" x="1234.7" y="5149.2">0 rows</text>
</g>

<g id="SCHED_COST_DETAIL">
<rect class="bg" x="1059.3" y="5184" width="224" height="341.7"/><rect class="hd" x="1059.3" y="5184" width="224" height="29.5"/>
<path class="ln" d="M1059.3 5213.5h224m-224 29.3h224m-224 29.3h224m-224 29.3h224m-224 29.3h224m-224 29.3h224m-224 29.3h224m-224 29.3h224m-224 29.3h224m-224 29.3h224m-224 24.5h224M1150 5501.7V5525.7M1234 5501.7V5525.7"/>
<rect class="bd" x="1059.3" y="5184" width="224" height="341.7"/>
<text class="b" x="1067.3" y="5204">SCHED_COST_DETAIL</text><text class="e" x="1276.3" y="5204">[table]</text>
<text><tspan x="1097.3" y="5233.15">SCD_ID</tspan><tspan x="1097.3" y="5262.45">EMP_ID</tspan><tspan x="1097.3" y="5291.75">SKDGRP_ID</tspan><tspan x="1097.3" y="5321.05">JOB_ID</tspan><tspan x="1097.3" y="5350.35">HTYPE_ID</tspan><tspan x="1097.3" y="5379.65">TCODE_ID</tspan><tspan x="1097.3" y="5408.95">DEPT_ID</tspan><tspan x="1097.3" y="5438.25">DOCK_ID</tspan><tspan x="1097.3" y="5467.55">PROJ_ID</tspan><tspan x="1064.3" y="5492.7">...</tspan><tspan x="1065.3" y="5518.7">&lt; 8</tspan></text>
<text class="e" x="1228" y="5518.7">0 rows</text>
</g>

<g id="SHIFT_BREAK">
<rect class="bg" x="1064.7" y="5553.3" width="213.3" height="195.2"/><rect class="hd" x="1064.7" y="5553.3" width="213.3" height="29.5"/>
<path class="ln" d="M1064.7 5582.8h213.3m-213.3 29.3h213.3m-213.3 29.3h213.3m-213.3 29.3h213.3m-213.3 29.3h213.3m-213.3 24.5h213.3M1154 5724.5V5748.5M1230 5724.5V5748.5"/>
<rect class="bd" x="1064.7" y="5553.3" width="213.3" height="195.2"/>
<text class="b" x="1072.7" y="5573.3">SHIFT_BREAK</text><text class="e" x="1271" y="5573.3">[table]</text>
<text><tspan x="1091.7" y="5602.45">SHFTBRK_ID</tspan><tspan x="1091.7" y="5631.75">SHFT_ID</tspan><tspan x="1091.7" y="5661.05">TCODE_ID</tspan><tspan x="1091.7" y="5690.35">HTYPE_ID</tspan><tspan x="1069.7" y="5715.5">...</tspan><tspan x="1070.7" y="5741.5">&lt; 3</tspan></text>
<text class="e" x="1224" y="5741.5">1 row</text>
</g>

<g id="SHIFT_PREMIUM_ZONE">
<rect class="bg" x="1025.1" y="5775.7" width="292.3" height="312.4"/><rect class="hd" x="1025.1" y="5775.7" width="292.3" height="29.5"/>
<path class="ln" d="M1025.1 5805.2h292.3m-292.3 29.3h292.3m-292.3 29.3h292.3m-292.3 29.3h292.3m-292.3 29.3h292.3m-292.3 29.3h292.3m-292.3 29.3h292.3m-292.3 29.3h292.3m-292.3 29.3h292.3m-292.3 24.5h292.3M1148.7 6064.1V6088.1M1240.8 6064.1V6088.1"/>
<rect class="bd" x="1025.1" y="5775.7" width="292.3" height="312.4"/>
<text class="b" x="1033.1" y="5795.7">SHIFT_PREMIUM_ZONE</text><text class="e" x="1310.4" y="5795.7">[table]</text>
<text><tspan x="1051" y="5824.85">SPZONE_ID</tspan><tspan x="1051" y="5854.15">SPZONE_NAME</tspan><tspan x="1051" y="5883.45">TCODE_ID</tspan><tspan x="1051" y="5912.75">HTYPE_ID</tspan><tspan x="1051" y="5942.05">JOB_ID</tspan><tspan x="1051" y="5971.35">DEPT_ID</tspan><tspan x="1051" y="6000.65">DOCK_ID</tspan><tspan x="1051" y="6029.95">PROJ_ID</tspan><tspan x="1030.1" y="6055.1">...</tspan><tspan x="1031.1" y="6081.1">&lt; 6</tspan></text>
<text class="e" x="1234.8" y="6081.1">1 row</text><text class="e" x="1311.4" y="6081.1">1 &gt;</text>
</g>

<g id="SO_ACTIVITY">
<rect class="bg" x="1068.8" y="6115.7" width="205" height="224.5"/><rect class="hd" x="1068.8" y="6115.7" width="205" height="29.5"/>
<path class="ln" d="M1068.8 6145.2h205m-205 29.3h205m-205 29.3h205m-205 29.3h205m-205 29.3h205m-205 29.3h205m-205 24.5h205M1140.5 6316.2V6340.2M1215.6 6316.2V6340.2"/>
<rect class="bd" x="1068.8" y="6115.7" width="205" height="224.5"/>
<text class="b" x="1076.8" y="6135.7">SO_ACTIVITY</text><text class="e" x="1266.8" y="6135.7">[table]</text>
<text><tspan x="1094.5" y="6164.85">ACT_ID</tspan><tspan x="1094.5" y="6194.15">ACT_NAME</tspan><tspan x="1094.5" y="6223.45">SKDGRP_ID</tspan><tspan x="1094.5" y="6252.75">COLR_ID</tspan><tspan x="1094.5" y="6282.05">TCODE_ID</tspan><tspan x="1073.8" y="6307.2">...</tspan><tspan x="1074.8" y="6333.2">&lt; 3</tspan></text>
<text class="e" x="1209.6" y="6333.2">6 rows</text><text class="e" x="1267.8" y="6333.2">28 &gt;</text>
</g>

<g id="SHIFT_PATTERN_SHIFT_LABOR">
<rect class="bg" x="1406" y="5851.6" width="294.3" height="400.3"/><rect class="hd" x="1406" y="5851.6" width="294.3" height="29.5"/>
<path class="ln" d="M1406 5881.1h294.3m-294.3 29.3h294.3m-294.3 29.3h294.3m-294.3 29.3h294.3m-294.3 29.3h294.3m-294.3 29.3h294.3m-294.3 29.3h294.3m-294.3 29.3h294.3m-294.3 29.3h294.3m-294.3 29.3h294.3m-294.3 29.3h294.3m-294.3 29.3h294.3m-294.3 24.5h294.3M1532.6 6227.9V6251.9M1633.5 6227.9V6251.9"/>
<rect class="bd" x="1406" y="5851.6" width="294.3" height="400.3"/>
<text class="b" x="1414" y="5871.6">SHIFT_PATTERN_SHIFT_LABOR</text><text class="e" x="1693.3" y="5871.6">[table]</text>
<text><tspan x="1441" y="5900.75">SPSLAB_ID</tspan><tspan x="1441" y="5930.05">SHFTPATSHFT_ID</tspan><tspan x="1441" y="5959.35">SHFTPAT_ID</tspan><tspan x="1441" y="5988.65">DOCK_ID</tspan><tspan x="1441" y="6017.95">HTYPE_ID</tspan><tspan x="1441" y="6047.25">JOB_ID</tspan><tspan x="1441" y="6076.55">TCODE_ID</tspan><tspan x="1441" y="6105.85">PROJ_ID</tspan><tspan x="1441" y="6135.15">DEPT_ID</tspan><tspan x="1441" y="6164.45">ACT_ID</tspan><tspan x="1441" y="6193.75">WBT_ID</tspan><tspan x="1411" y="6218.9">...</tspan><tspan x="1412" y="6244.9">&lt; 9</tspan></text>
<text class="e" x="1627.5" y="6244.9">0 rows</text>
</g>

<g id="EMP_SCHD_DTL_LAYER">
<rect class="bg" x="1434" y="1362.5" width="238.7" height="576.1"/><rect class="hd" x="1434" y="1362.5" width="238.7" height="29.5"/>
<path class="ln" d="M1434 1392h238.7m-238.7 29.3h238.7m-238.7 29.3h238.7m-238.7 29.3h238.7m-238.7 29.3h238.7m-238.7 29.3h238.7m-238.7 29.3h238.7m-238.7 29.3h238.7m-238.7 29.3h238.7m-238.7 29.3h238.7m-238.7 29.3h238.7m-238.7 29.3h238.7m-238.7 29.3h238.7m-238.7 29.3h238.7m-238.7 29.3h238.7m-238.7 29.3h238.7m-238.7 29.3h238.7m-238.7 24.5h238.7M1532.7 1914.6V1938.6M1625 1914.6V1938.6"/>
<rect class="bd" x="1434" y="1362.5" width="238.7" height="576.1"/>
<text class="b" x="1442" y="1382.5">EMP_SCHD_DTL_LAYER</text><text class="e" x="1665.7" y="1382.5">[table]</text>
<use href="#kp" x="1447.7" y="1406.65"/><use href="#kf" x="1447.7" y="1435.95"/><use href="#kf" x="1447.7" y="1465.25"/><use href="#kf" x="1447.7" y="1494.55"/><use href="#kf" x="1447.7" y="1523.85"/><use href="#kf" x="1447.7" y="1553.15"/><use href="#kf" x="1447.7" y="1582.45"/><use href="#kf" x="1447.7" y="1611.75"/><use href="#kf" x="1447.7" y="1641.05"/><use href="#kf" x="1447.7" y="1670.35"/><use href="#kf" x="1447.7" y="1699.65"/><use href="#kf" x="1447.7" y="1728.95"/>
<text><tspan x="1465.7" y="1411.65">ESCHDL_ID</tspan><tspan x="1465.7" y="1440.95">EMPSKD_ID</tspan><tspan x="1465.7" y="1470.25">EMP_ID</tspan><tspan x="1465.7" y="1499.55">DOCK_ID</tspan><tspan x="1465.7" y="1528.85">HTYPE_ID</tspan><tspan x="1465.7" y="1558.15">JOB_ID</tspan><tspan x="1465.7" y="1587.45">TCODE_ID</tspan><tspan x="1465.7" y="1616.75">PROJ_ID</tspan><tspan x="1465.7" y="1646.05">DEPT_ID</tspan><tspan x="1465.7" y="1675.35">WBT_ID</tspan><tspan x="1465.7" y="1704.65">STSKL_ID</tspan><tspan x="1465.7" y="1733.95">ACT_ID</tspan><tspan x="1465.7" y="1763.25">ESCHDL_END_TIME</tspan><tspan x="1465.7" y="1792.55">ESCHDL_WORK_DATE</tspan><tspan x="1465.7" y="1821.85">ESCHDL_STATUS</tspan><tspan x="1465.7" y="1851.15">ESCHDL_TYPE</tspan><tspan x="1465.7" y="1880.45">MODULE_REF</tspan><tspan x="1439" y="1905.6">...</tspan><tspan x="1440" y="1931.6">&lt; 11</tspan></text>
<text class="e" x="1619" y="1931.6">20 rows</text>
</g>

<g id="EMPLOYEE_SCHED_DTL">
<rect class="bg" x="1431.3" y="2756.8" width="242.7" height="546.8"/><rect class="hd" x="1431.3" y="2756.8" width="242.7" height="29.5"/>
<path class="ln" d="M1431.3 2786.3h242.7m-242.7 29.3h242.7m-242.7 29.3h242.7m-242.7 29.3h242.7m-242.7 29.3h242.7m-242.7 29.3h242.7m-242.7 29.3h242.7m-242.7 29.3h242.7m-242.7 29.3h242.7m-242.7 29.3h242.7m-242.7 29.3h242.7m-242.7 29.3h242.7m-242.7 29.3h242.7m-242.7 29.3h242.7m-242.7 29.3h242.7m-242.7 29.3h242.7m-242.7 29.3h242.7m-242.7 24.5h242.7M1531.7 3279.6V3303.6M1625.3 3279.6V3303.6"/>
<rect class="bd" x="1431.3" y="2756.8" width="242.7" height="546.8"/>
<text class="b" x="1439.3" y="2776.8">EMPLOYEE_SCHED_DTL</text><text class="e" x="1667" y="2776.8">[table]</text>
<text><tspan x="1469.3" y="2805.95">ESCHD_ID</tspan><tspan x="1469.3" y="2835.25">EMPSKD_ID</tspan><tspan x="1469.3" y="2864.55">EMP_ID</tspan><tspan x="1469.3" y="2893.85">DOCK_ID</tspan><tspan x="1469.3" y="2923.15">HTYPE_ID</tspan><tspan x="1469.3" y="2952.45">JOB_ID</tspan><tspan x="1469.3" y="2981.75">TCODE_ID</tspan><tspan x="1469.3" y="3011.05">PROJ_ID</tspan><tspan x="1469.3" y="3040.35">DEPT_ID</tspan><tspan x="1469.3" y="3069.65">WBT_ID</tspan><tspan x="1469.3" y="3098.95">STSKL_ID</tspan><tspan x="1469.3" y="3128.25">ACT_ID</tspan><tspan x="1469.3" y="3157.55">ESCHD_START_TIME</tspan><tspan x="1469.3" y="3186.85">ESCHD_END_TIME</tspan><tspan x="1469.3" y="3216.15">ESCHD_WORK_DATE</tspan><tspan x="1469.3" y="3245.45">MODULE_REF</tspan><tspan x="1436.3" y="3270.6">...</tspan><tspan x="1437.3" y="3296.6">&lt; 11</tspan></text>
<text class="e" x="1619.3" y="3296.6">25 rows</text>
</g>

<g id="HOUR_TYPE">
<rect class="bg" x="299" y="3451.7" width="207" height="165.9"/><rect class="hd" x="299" y="3451.7" width="207" height="29.5"/>
<path class="ln" d="M299 3481.2h207m-207 29.3h207m-207 29.3h207m-207 29.3h207m-207 24.5h207M367.4 3593.6V3617.6M448.5 3593.6V3617.6"/>
<rect class="bd" x="299" y="3451.7" width="207" height="165.9"/>
<text class="b" x="307" y="3471.7">HOUR_TYPE</text><text class="e" x="499" y="3471.7">[table]</text>
<text><tspan x="326" y="3500.85">HTYPE_ID</tspan><tspan x="326" y="3530.15">HTYPE_NAME</tspan><tspan x="326" y="3559.45">LMS_ID</tspan><tspan x="304" y="3584.6">...</tspan><tspan x="305" y="3610.6">&lt; 1</tspan></text>
<text class="e" x="442.5" y="3610.6">15 rows</text><text class="e" x="500" y="3610.6">18 &gt;</text>
</g>

<g id="LABOR_METRIC_SEC">
<rect class="bg" x="16.5" y="3730.7" width="217.7" height="136.6"/><rect class="hd" x="16.5" y="3730.7" width="217.7" height="29.5"/>
<path class="ln" d="M16.5 3760.2h217.7m-217.7 29.3h217.7m-217.7 29.3h217.7m-217.7 24.5h217.7M92.6 3843.3V3867.3M175.3 3843.3V3867.3"/>
<rect class="bd" x="16.5" y="3730.7" width="217.7" height="136.6"/>
<text class="b" x="24.5" y="3750.7">LABOR_METRIC_SEC</text><text class="e" x="227.2" y="3750.7">[table]</text>
<text><tspan x="54.3" y="3779.85">LMS_ID</tspan><tspan x="54.3" y="3809.15">LMS_NAME</tspan><tspan x="21.5" y="3834.3">...</tspan></text>
<text class="e" x="169.3" y="3860.3">2 rows</text><text class="e" x="228.2" y="3860.3">9 &gt;</text>
</g>

<g id="COLOUR">
<rect class="bg" x="333.7" y="3765" width="136.3" height="136.6"/><rect class="hd" x="333.7" y="3765" width="136.3" height="29.5"/>
<path class="ln" d="M333.7 3794.5h136.3m-136.3 29.3h136.3m-136.3 29.3h136.3m-136.3 24.5h136.3M360.5 3877.6V3901.6M435 3877.6V3901.6"/>
<rect class="bd" x="333.7" y="3765" width="136.3" height="136.6"/>
<text class="b" x="341.7" y="3785">COLOUR</text><text class="e" x="463" y="3785">[table]</text>
<text><tspan x="361.7" y="3814.15">COLR_ID</tspan><tspan x="361.7" y="3843.45">COLR_NAME</tspan><tspan x="338.7" y="3868.6">...</tspan></text>
<text class="e" x="429" y="3894.6">179 rows</text><text class="e" x="464" y="3894.6">9 &gt;</text>
</g>

<g id="TIME_CODE">
<rect class="bg" x="572" y="3214.1" width="364" height="1339.06"/><rect class="hd" x="572" y="3214.1" width="364" height="29.8"/>
<path class="ln" d="M572 3243.9h364m-364 29.32h364m-364 29.32h364m-364 29.32h364m-364 29.32h364m-364 29.32h364m-364 29.32h364m-364 29.32h364m-364 29.32h364m-364 29.32h364m-364 29.32h364m-364 29.32h364m-364 29.32h364m-364 29.32h364m-364 29.32h364m-364 29.32h364m-364 29.32h364m-364 29.32h364m-364 29.32h364m-364 29.32h364m-364 29.32h364m-364 29.32h364m-364 29.32h364m-364 29.32h364m-364 29.32h364m-364 29.32h364m-364 29.32h364m-364 29.32h364m-364 29.32h364m-364 29.32h364m-364 29.32h364m-364 29.32h364m-364 29.32h364m-364 29.32h364m-364 29.32h364m-364 29.32h364m-364 29.32h364m-364 29.32h364m-364 29.32h364m-364 29.32h364m-364 29.32h364m-364 29.32h364m-364 24.5h364M837.7 3243.9V4504.66M710 4529.16V4553.16M866 4529.16V4553.16"/>
<rect class="bd4" x="572" y="3214.1" width="364" height="1339.06"/>
<text class="b" x="580" y="3234">TIME_CODE</text><text class="e" x="928" y="3234">[table]</text>
<text><tspan x="601.7" y="3263.56">TCODE_ID</tspan><tspan x="601.7" y="3292.88">TCODE_NAME</tspan><tspan x="601.7" y="3322.2">TCODE_DESC</tspan><tspan x="601.7" y="3351.52">TCODE_DEF_HOURS</tspan><tspan x="601.7" y="3380.84">TCODE_DOW</tspan><tspan x="601.7" y="3410.16">TCODE_OWS</tspan><tspan x="601.7" y="3439.48">COLR_ID</tspan><tspan x="601.7" y="3468.8">HTYPE_ID</tspan><tspan x="601.7" y="3498.12">TCODE_UNAUTHORIZE</tspan><tspan x="601.7" y="3527.44">TCODE_FLAG1</tspan><tspan x="601.7" y="3556.76">TCODE_FLAG2</tspan><tspan x="601.7" y="3586.08">TCODE_FLAG3</tspan><tspan x="601.7" y="3615.4">TCODE_FLAG4</tspan><tspan x="601.7" y="3644.72">TCODE_FLAG5</tspan><tspan x="601.7" y="3674.04">TCODE_FLAG6</tspan><tspan x="601.7" y="3703.36">TCODE_FLAG7</tspan><tspan x="601.7" y="3732.68">TCODE_FLAG8</tspan><tspan x="601.7" y="3762">TCODE_FLAG9</tspan><tspan x="601.7" y="3791.32">TCODE_FLAG10</tspan><tspan x="601.7" y="3820.64">TCODE_SORTORDER</tspan><tspan x="601.7" y="3849.96">TCODE_YAG</tspan><tspan x="601.7" y="3879.28">TCODE_AFFECTS_BALANCES</tspan><tspan x="601.7" y="3908.6">TCODE_IRREGULAR</tspan><tspan x="601.7" y="3937.92">TCODE_DEFAULT_RATE</tspan><tspan x="601.7" y="3967.24">TCODE_SUMMARIZE</tspan><tspan x="601.7" y="3996.56">TCODE_ETM_WD_HIDE</tspan><tspan x="601.7" y="4025.88">LMS_ID</tspan><tspan x="601.7" y="4055.2">CLIENT_ID</tspan><tspan x="601.7" y="4084.52">TCODE_IS_LTA</tspan><tspan x="601.7" y="4113.84">TCODE_UDF1</tspan><tspan x="601.7" y="4143.16">TCODE_UDF2</tspan><tspan x="601.7" y="4172.48">TCODE_UDF3</tspan><tspan x="601.7" y="4201.8">TCODE_UDF4</tspan><tspan x="601.7" y="4231.12">TCODE_UDF5</tspan><tspan x="601.7" y="4260.44">TCODE_UDF6</tspan><tspan x="601.7" y="4289.76">TCODE_UDF7</tspan><tspan x="601.7" y="4319.08">TCODE_UDF8</tspan><tspan x="601.7" y="4348.4">TCODE_UDF9</tspan><tspan x="601.7" y="4377.72">TCODE_UDF10</tspan><tspan x="601.7" y="4407.04">TCODE_RPT_ISPRDCTV</tspan><tspan x="601.7" y="4436.36">TCODE_IS_EXCLD_TTL</tspan><tspan x="601.7" y="4465.68">TCODE_IS_SRH</tspan><tspan x="601.7" y="4495">TCODE_QUALIFY_TTL</tspan><tspan x="577" y="4520">...</tspan><tspan x="578" y="4546.2">&lt; 3</tspan></text>
<text><tspan x="841.7" y="3263.56">number[38]</tspan><tspan x="841.7" y="3292.88">varchar2[40]</tspan><tspan x="841.7" y="3322.2">varchar2[100]</tspan><tspan x="841.7" y="3351.52">number[38]</tspan><tspan x="841.7" y="3380.84">varchar2[40]</tspan><tspan x="841.7" y="3410.16">char[1]</tspan><tspan x="841.7" y="3439.48">number[38]</tspan><tspan x="841.7" y="3468.8">number[38]</tspan><tspan x="841.7" y="3498.12">char[1]</tspan><tspan x="841.7" y="3527.44">varchar2[1]</tspan><tspan x="841.7" y="3556.76">varchar2[1]</tspan><tspan x="841.7" y="3586.08">varchar2[1]</tspan><tspan x="841.7" y="3615.4">varchar2[1]</tspan><tspan x="841.7" y="3644.72">varchar2[1]</tspan><tspan x="841.7" y="3674.04">varchar2[1]</tspan><tspan x="841.7" y="3703.36">varchar2[1]</tspan><tspan x="841.7" y="3732.68">varchar2[1]</tspan><tspan x="841.7" y="3762">varchar2[1]</tspan><tspan x="841.7" y="3791.32">varchar2[1]</tspan><tspan x="841.7" y="3820.64">number[38]</tspan><tspan x="841.7" y="3849.96">varchar2[1]</tspan><tspan x="841.7" y="3879.28">char[1]</tspan><tspan x="841.7" y="3908.6">char[1]</tspan><tspan x="841.7" y="3937.92">number[10,5]</tspan><tspan x="841.7" y="3967.24">char[1]</tspan><tspan x="841.7" y="3996.56">char[1]</tspan><tspan x="841.7" y="4025.88">number[38]</tspan><tspan x="841.7" y="4055.2">number[38]</tspan><tspan x="841.7" y="4084.52">char[1]</tspan><tspan x="841.7" y="4113.84">varchar2[40]</tspan><tspan x="841.7" y="4143.16">varchar2[40]</tspan><tspan x="841.7" y="4172.48">varchar2[40]</tspan><tspan x="841.7" y="4201.8">varchar2[40]</tspan><tspan x="841.7" y="4231.12">varchar2[40]</tspan><tspan x="841.7" y="4260.44">varchar2[40]</tspan><tspan x="841.7" y="4289.76">varchar2[40]</tspan><tspan x="841.7" y="4319.08">varchar2[40]</tspan><tspan x="841.7" y="4348.4">varchar2[40]</tspan><tspan x="841.7" y="4377.72">varchar2[40]</tspan><tspan x="841.7" y="4407.04">varchar2[1]</tspan><tspan x="841.7" y="4436.36">char[1]</tspan><tspan x="841.7" y="4465.68">char[1]</tspan><tspan x="841.7" y="4495">char[1]</tspan></text>
<text class="e" x="860" y="4546.2">48 rows</text><text class="e" x="930" y="4546.2">20 &gt;</text>
</g>

<text x="16" y="6452.7">Generated by SchemaSpy</text>
</g>
</svg>
